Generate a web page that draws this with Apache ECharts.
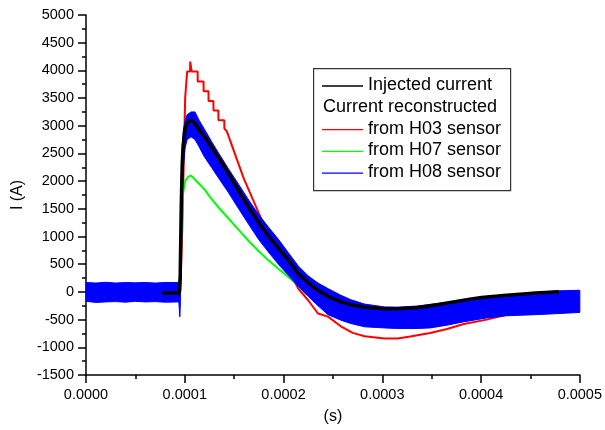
<!DOCTYPE html>
<html><head><meta charset="utf-8">
<script src="https://cdn.jsdelivr.net/npm/echarts@6/dist/echarts.min.js"></script>
<style>html,body{margin:0;padding:0;background:#fff}#c{width:605px;height:430px}</style>
</head><body><div id="c"></div>
<script>
// Injected current (black)
const injT = [7.73e-5, 9.44e-5, 9.54e-5, 9.64e-5, 9.74e-5, 9.84e-5, 1.004e-4, 1.024e-4, 1.054e-4, 1.084e-4, 1.104e-4, 1.15e-4, 1.195e-4, 1.27e-4, 1.345e-4, 1.44e-4, 1.546e-4, 1.647e-4, 1.747e-4, 1.847e-4, 1.948e-4, 2.048e-4, 2.149e-4, 2.249e-4, 2.349e-4, 2.45e-4, 2.58e-4, 2.681e-4, 2.821e-4, 3.022e-4, 3.153e-4, 3.353e-4, 3.554e-4, 3.886e-4, 4.006e-4, 4.227e-4, 4.558e-4, 4.789e-4];
const injI = [-20, -20, 300, 1500, 2300, 2650, 2950, 3060, 3100, 3080, 3040, 2920, 2820, 2620, 2420, 2150, 1830, 1530, 1260, 1010, 790, 580, 330, 170, 30, -80, -180, -230, -275, -305, -305, -285, -230, -130, -100, -66, -20, 5];

// H03 sensor (red)
const h03T = [9.54e-5, 9.74e-5, 9.94e-5, 1.004e-4, 1.024e-4, 1.054e-4, 1.055e-4, 1.069e-4, 1.07e-4, 1.13e-4, 1.131e-4, 1.19e-4, 1.191e-4, 1.24e-4, 1.241e-4, 1.29e-4, 1.291e-4, 1.34e-4, 1.341e-4, 1.40e-4, 1.401e-4, 1.426e-4, 1.596e-4, 1.767e-4, 1.847e-4, 1.948e-4, 2.048e-4, 2.149e-4, 2.249e-4, 2.349e-4, 2.45e-4, 2.58e-4, 2.701e-4, 2.821e-4, 3.022e-4, 3.153e-4, 3.283e-4, 3.484e-4, 3.655e-4, 3.825e-4, 4.056e-4, 4.257e-4, 4.558e-4, 4.91e-4];
const h03I = [0, 1100, 2700, 3500, 3980, 3980, 4160, 4160, 3980, 3980, 3800, 3800, 3625, 3625, 3446, 3446, 3275, 3275, 3100, 3100, 2950, 2900, 2054, 1350, 1080, 780, 400, 60, -150, -390, -446, -620, -740, -800, -840, -840, -804, -740, -670, -580, -500, -411, -330, -250];

// H07 sensor (green)
const h07T = [9.54e-5, 9.64e-5, 9.74e-5, 9.84e-5, 1.004e-4, 1.034e-4, 1.064e-4, 1.084e-4, 1.13e-4, 1.195e-4, 1.27e-4, 1.345e-4, 1.44e-4, 1.546e-4, 1.647e-4, 1.747e-4, 1.847e-4, 1.948e-4, 2.048e-4, 2.149e-4, 2.219e-4, 2.26e-4];
const h07I = [0, 900, 1500, 1800, 2000, 2080, 2100, 2080, 1980, 1860, 1680, 1520, 1330, 1120, 920, 740, 570, 420, 270, 120, -20, -60];

// H08 sensor (blue, noisy band: lower / upper envelope)
const h08T = [0, 1e-5, 2e-5, 3e-5, 4e-5, 5e-5, 6e-5, 7e-5, 8e-5, 9.4e-5, 9.5e-5, 9.54e-5, 9.64e-5, 9.74e-5, 9.84e-5, 1.004e-4, 1.024e-4, 1.064e-4, 1.104e-4, 1.145e-4, 1.195e-4, 1.27e-4, 1.345e-4, 1.44e-4, 1.546e-4, 1.647e-4, 1.747e-4, 1.847e-4, 1.948e-4, 2.048e-4, 2.149e-4, 2.249e-4, 2.349e-4, 2.45e-4, 2.58e-4, 2.681e-4, 2.821e-4, 3.022e-4, 3.153e-4, 3.353e-4, 3.484e-4, 3.655e-4, 3.825e-4, 4.056e-4, 4.257e-4, 4.558e-4, 4.789e-4, 5.0e-4];
const h08Lo = [-170, -190, -180, -175, -185, -170, -180, -175, -185, -180, -450, -300, 600, 1500, 2200, 2600, 2750, 2800, 2750, 2620, 2450, 2250, 2050, 1800, 1500, 1220, 950, 720, 500, 300, 100, -80, -250, -410, -510, -570, -630, -650, -660, -660, -650, -600, -540, -470, -430, -410, -390, -370];
const h08Hi = [170, 160, 175, 160, 170, 165, 170, 160, 170, 170, 200, 300, 1800, 2600, 2900, 3100, 3200, 3250, 3250, 3100, 2950, 2720, 2500, 2230, 1940, 1660, 1400, 1170, 950, 710, 470, 290, 160, 60, -60, -140, -220, -270, -275, -255, -225, -190, -150, -90, -55, -5, 20, 30];

// Axis ticks
const xMin = 0, xMax = 0.0005, xStep = 0.0001;
const yMin = -1500, yMax = 5000, yStep = 500;

// Legend entries
const legendItems = [
  {label: 'Injected current', color: '#000000', line: true},
  {label: 'Current reconstructed', color: null, line: false},
  {label: 'from H03 sensor', color: '#ff0000', line: true},
  {label: 'from H07 sensor', color: '#00ff00', line: true},
  {label: 'from H08 sensor', color: '#0000ff', line: true}
];

const pairs = (t, v) => t.map((x, i) => [x, v[i]]);
const FONT = '"Liberation Sans", Arial, sans-serif';

const chart = echarts.init(document.getElementById('c'), null, {renderer: 'canvas'});

const legendGraphics = [{
  type: 'rect', left: 313, top: 68, shape: {width: 197, height: 122},
  style: {fill: '#fff', stroke: '#333', lineWidth: 1.2}, z: 100
}];
legendItems.forEach((it, i) => {
  const cy = 86 + i * 21.8;
  if (it.line) {
    legendGraphics.push({type: 'line', shape: {x1: 322, y1: cy, x2: 363, y2: cy},
      style: {stroke: it.color, lineWidth: 1.3}, z: 101});
  }
  legendGraphics.push({type: 'text', left: it.line ? 368 : 323, top: cy - 10,
    style: {text: it.label, font: '18px ' + FONT, fill: '#000'}, z: 101});
});

const axisCommon = {
  axisLine: {show: true, onZero: false, lineStyle: {color: '#000', width: 1.5}},
  axisTick: {show: true, inside: false, length: 8, lineStyle: {color: '#000', width: 1.5}},
  minorTick: {show: true, splitNumber: 2, length: 4, lineStyle: {color: '#000', width: 1.5}},
  splitLine: {show: false},
  nameTextStyle: {fontFamily: FONT, fontSize: 16, color: '#000'}
};

chart.setOption({
  animation: false,
  backgroundColor: '#fff',
  grid: {left: 86, right: 21, top: 15, bottom: 51, containLabel: false},
  xAxis: Object.assign({}, axisCommon, {
    type: 'value', min: xMin, max: xMax, interval: xStep,
    name: '(s)', nameLocation: 'middle', nameGap: 34,
    axisLabel: {fontFamily: FONT, fontSize: 14.5, color: '#000', margin: 12,
      formatter: v => v.toFixed(4)}
  }),
  yAxis: Object.assign({}, axisCommon, {
    type: 'value', min: yMin, max: yMax, interval: yStep,
    name: 'I (A)', nameLocation: 'middle', nameGap: 58, nameRotate: 90,
    axisLabel: {fontFamily: FONT, fontSize: 14.5, color: '#000', margin: 12,
      formatter: v => String(v)}
  }),
  series: [
    {name: 'from H03 sensor', type: 'line', data: pairs(h03T, h03I), showSymbol: false,
      lineStyle: {color: '#ff0000', width: 2}, z: 2},
    {name: 'from H07 sensor', type: 'line', data: pairs(h07T, h07I), showSymbol: false,
      lineStyle: {color: '#00ff00', width: 2}, z: 3},
    {name: 'from H08 sensor', type: 'custom', z: 4,
      data: h08T.map((t, i) => [t, h08Lo[i], h08Hi[i]]),
      encode: {x: 0, y: [1, 2]},
      renderItem: function (params, api) {
        if (params.dataIndex !== 0) return null;
        const pts = [];
        for (let i = 0; i < h08T.length; i++) pts.push(api.coord([h08T[i], h08Hi[i]]));
        for (let i = h08T.length - 1; i >= 0; i--) pts.push(api.coord([h08T[i], h08Lo[i]]));
        return {type: 'polygon', shape: {points: pts},
          style: {fill: '#0000ff', stroke: '#0000ff', lineWidth: 1}};
      }},
    {name: 'Injected current', type: 'line', data: pairs(injT, injI), showSymbol: false,
      lineStyle: {color: '#000000', width: 3.5}, z: 5}
  ],
  graphic: legendGraphics
});
</script></body></html>
